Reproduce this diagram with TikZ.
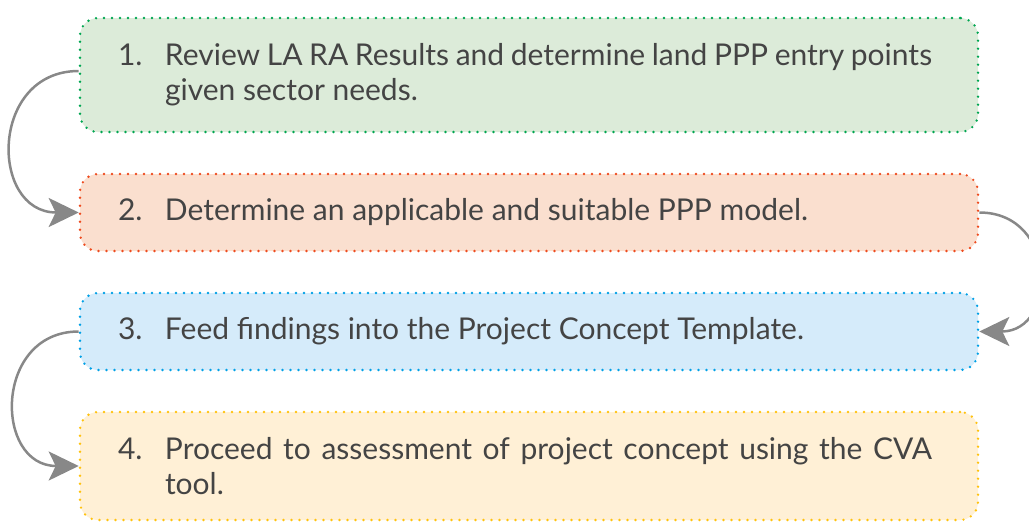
\documentclass[tikz,border=0pt]{standalone}
\usepackage{fontspec}
\setmainfont{Lato}
\usetikzlibrary{arrows.meta}
\definecolor{txt}{HTML}{444444}
\definecolor{arr}{HTML}{888888}
\definecolor{gfill}{HTML}{DCEBD9}\definecolor{gline}{HTML}{00A651}
\definecolor{rfill}{HTML}{FADFCF}\definecolor{rline}{HTML}{EE4B1E}
\definecolor{bfill}{HTML}{D5EBFA}\definecolor{bline}{HTML}{00A0E6}
\definecolor{yfill}{HTML}{FFF0D6}\definecolor{yline}{HTML}{FFC20E}
\newcommand{\stepitem}[2]{\parbox{814pt}{\fontsize{30}{35}\selectfont\color{txt}\hangindent=47pt\hangafter=1\noindent\makebox[47pt][l]{#1}#2}\hspace*{8pt}}
\tikzset{
  stepbox/.style={rectangle, rounded corners=18pt, minimum width=898pt, inner xsep=38pt, inner ysep=0pt,
    line width=2.6pt, dash pattern=on 0pt off 8pt, line cap=round},
  conn/.style={draw=arr, line width=2.5pt, -{Stealth[length=30pt,width=29pt,inset=7pt]}}
}
\begin{document}
\begin{tikzpicture}[x=1pt,y=-1pt]
\useasboundingbox (0,0) rectangle (1029,523);
\node[stepbox, draw=gline, fill=gfill, minimum height=114pt] (s1) at (529,75)
  {\stepitem{1.}{Review LA RA Results and determine land PPP entry points\linebreak given sector needs.}};
\node[stepbox, draw=rline, fill=rfill, minimum height=77pt] (s2) at (529,212.5)
  {\stepitem{2.}{Determine an applicable and suitable PPP model.}};
\node[stepbox, draw=bline, fill=bfill, minimum height=77pt] (s3) at (529,331.5)
  {\stepitem{3.}{Feed findings into the Project Concept Template.}};
\node[stepbox, draw=yline, fill=yfill, minimum height=108pt] (s4) at (529,466)
  {\stepitem{4.}{Proceed to assessment of project concept using the CVA\linebreak tool.}};
\draw[conn] ([yshift=4pt]s1.west) to[out=180,in=180,looseness=1.62] (s2.west);
\draw[conn] (s2.east) to[out=0,in=0,looseness=1.7] (s3.east);
\draw[conn] (s3.west) to[out=180,in=180,looseness=1.62] (s4.west);
\end{tikzpicture}
\end{document}
